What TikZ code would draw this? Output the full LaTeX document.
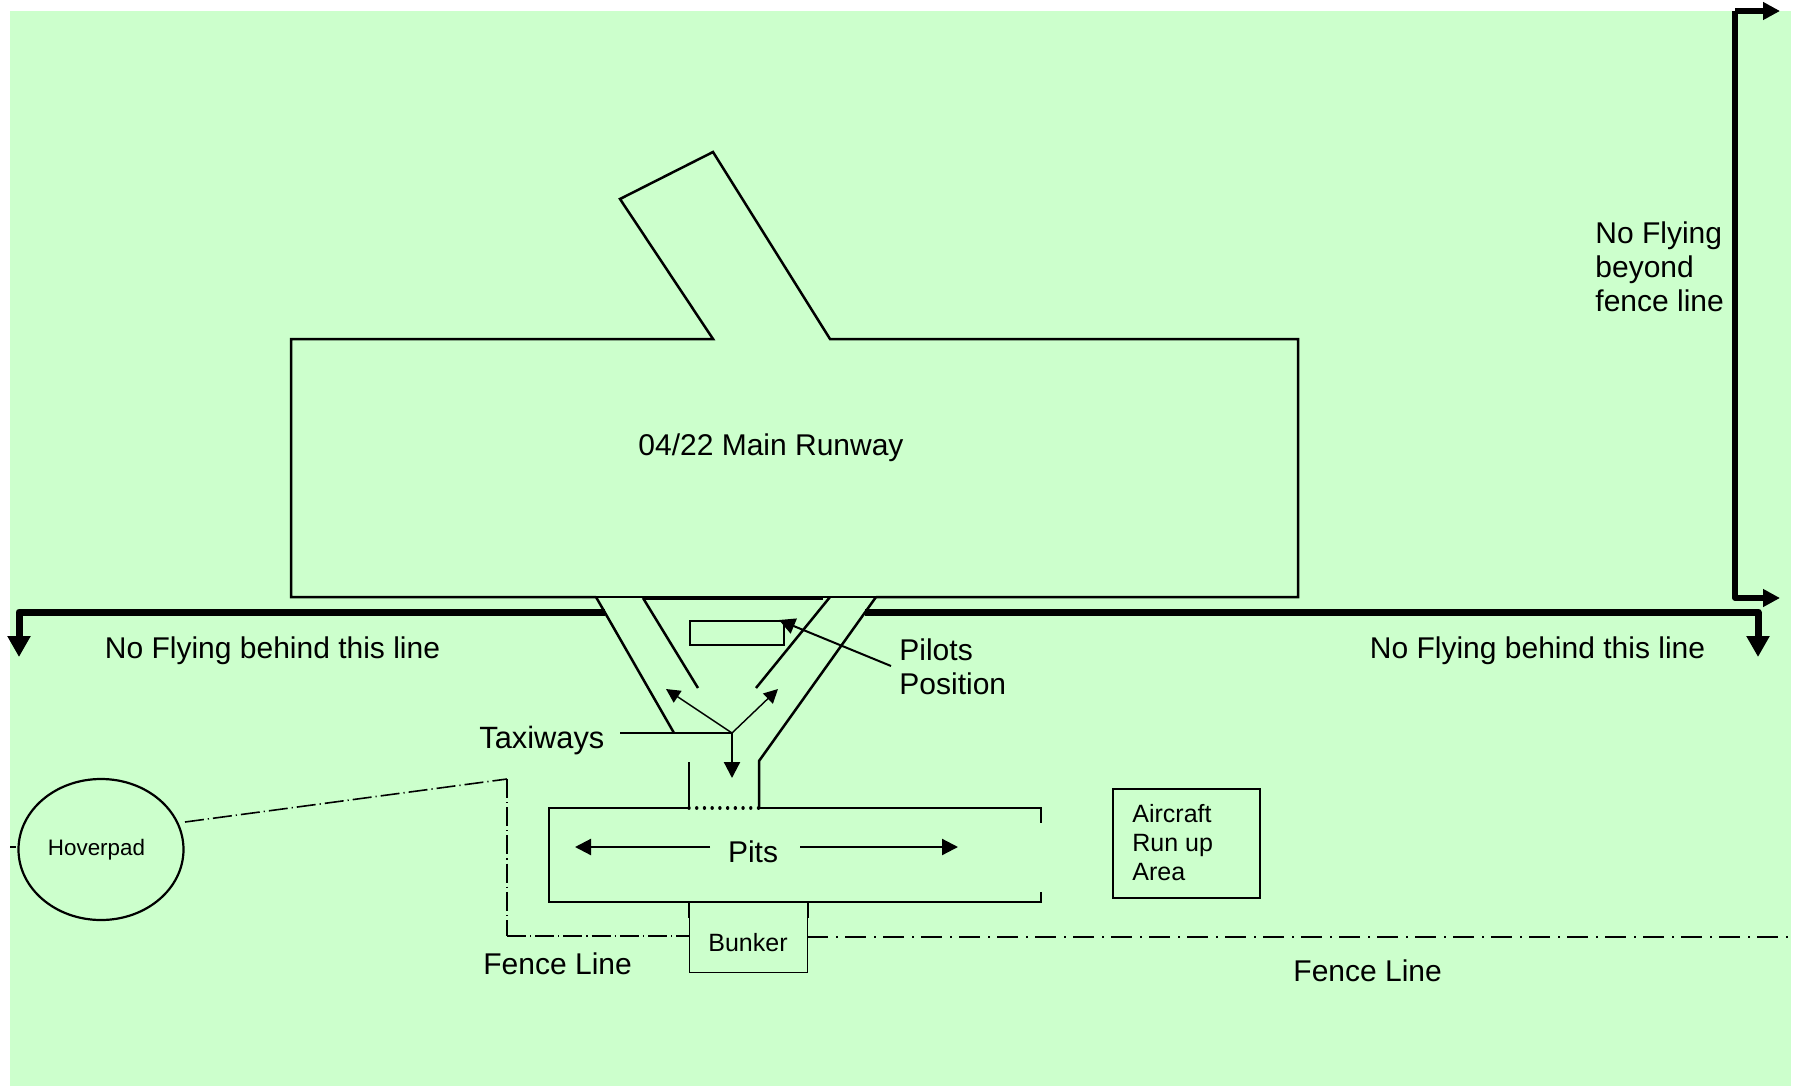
\documentclass[tikz,border=0pt]{standalone}
\usepackage{fontspec}
\setmainfont{Liberation Sans}
\usetikzlibrary{positioning,arrows.meta,calc,shapes.geometric}
\definecolor{grass}{HTML}{CCFFCC}
\begin{document}
\begin{tikzpicture}[
  x=0.5pt,y=-0.5pt,
  lbl/.style={inner sep=0pt,anchor=west,align=left,font=\fontsize{15}{17}\selectfont},
  sml/.style={inner sep=0pt,font=\fontsize{12.5}{14.5}\selectfont},
  edge/.style={draw=black,line width=1.25pt,line join=miter},
  box/.style={draw=black,line width=1.1pt,inner sep=0pt,anchor=north west},
  limit/.style={-{Triangle[length=10.5pt,width=11pt]},line width=3.5pt,line join=round},
  limitb/.style={-{Triangle[length=8.5pt,width=8.5pt]},line width=2.8pt,line join=round},
  a/.style={-{Triangle[length=7pt,width=7pt]},draw=black,line width=0.7pt},
  b/.style={-{Triangle[length=8pt,width=8pt]},draw=black,line width=1.1pt},
  fenceA/.style={draw=black,line width=0.8pt,dash pattern=on 9.5pt off 2pt on 0.6pt off 2pt},
  fenceB/.style={draw=black,line width=1.3pt,dash pattern=on 10.5pt off 4pt on 1pt off 3.5pt}]
\useasboundingbox (0,0) rectangle (1797,1086);
\fill[grass] (10,11) rectangle (1791,1086);

% limit lines
\coordinate (ll1) at (19,657); \coordinate (ll2) at (19,612); \coordinate (ll3) at (605,612);
\coordinate (lr1) at (865,612); \coordinate (lr2) at (1758,612); \coordinate (lr3) at (1758,657);
\coordinate (fa) at (1780,11); \coordinate (fb) at (1735,11); \coordinate (fc) at (1735,598); \coordinate (fd) at (1780,598);
\draw[limit] (ll3)--(ll2)--(ll1);
\draw[limit] (lr1)--(lr2)--(lr3);
\draw[limitb] (fb)--(fa);
\draw[limitb] (fb)--(fc)--(fd);

% runway
\coordinate (r1) at (596,597); \coordinate (r2) at (291,597); \coordinate (r3) at (291,339);
\coordinate (r4) at (713,339); \coordinate (r5) at (620,199); \coordinate (r6) at (713,152);
\coordinate (r7) at (830,339); \coordinate (r8) at (1298,339); \coordinate (r9) at (1298,597);
\coordinate (r10) at (876,597);
\draw[edge] (r1)--(r2)--(r3)--(r4)--(r5)--(r6)--(r7)--(r8)--(r9)--(r10);
\draw[draw=black,line width=0.8pt] (r1)--(r10);
\coordinate (tt1) at (643,598); \coordinate (tt2) at (823,598); \coordinate (tt3) at (830,597);
\draw[edge,line width=1.8pt] (tt1)--(tt2);

% taxiways
\coordinate (tl) at (674,733); \coordinate (hub) at (732,733); \coordinate (tk) at (620,733);
\coordinate (tli) at (698,688); \coordinate (tri) at (756,688);
\coordinate (trk) at (759,761); \coordinate (pr) at (759,808);
\coordinate (tls) at (689,762); \coordinate (pl) at (689,808);
\draw[edge] (r1)--(tl);
\draw[edge] (tk)--(hub);
\draw[edge] (tt1)--(tli);
\draw[edge] (tt3)--(tri);
\draw[edge] (r10)--(trk)--(pr);
\draw[edge] (tls)--(pl);
\draw[a] (hub)--(666,689);
\draw[a] (hub)--(778,689);
\draw[b] (hub)--(732,778);

% pits
\coordinate (p1) at (549,808); \coordinate (p2) at (549,902); \coordinate (p3) at (1041,902);
\coordinate (p4) at (1041,892); \coordinate (p5) at (1041,808); \coordinate (p6) at (1041,823);
\draw[edge] (pl)--(p1)--(p2)--(p3)--(p4);
\draw[edge] (pr)--(p5)--(p6);
\draw[line width=1.7pt,line cap=round,dash pattern=on 0.01pt off 3.85pt] (pl)--(pr);
\node[sml,font=\fontsize{15}{17}\selectfont] (pits) at (753,852) {Pits};
\coordinate (pa) at (575,847); \coordinate (pb) at (710,847); \coordinate (pc) at (800,847); \coordinate (pd) at (958,847);
\draw[b] (pb)--(pa);
\draw[b] (pc)--(pd);

% fence
\node[draw=black,line width=1.1pt,ellipse,inner sep=0pt,minimum width=82.5pt,minimum height=70.5pt] (hover) at (101,849.5) {};
\node[inner sep=0pt,font=\fontsize{11.2}{13}\selectfont] (hovertxt) at (96.5,850) {Hoverpad};
\coordinate (f0) at (10,847); \coordinate (f00) at (18,847);
\coordinate (f1) at (185,822); \coordinate (f2) at (507,779);
\coordinate (f3) at (507,936); \coordinate (f4) at (689,936); \coordinate (f5) at (807,937); \coordinate (f6) at (1791,937);
\draw[fenceA,dash pattern=on 3pt off 1.7pt on 0.6pt off 1.7pt] (f0)--(f00);
\draw[fenceA] (f1)--(f2);
\draw[fenceA,line width=1pt] (f2)--(f3);
\draw[fenceA,line width=0.6pt] (f3)--(f4);
\draw[fenceB] (f5)--(f6);

% boxes
\node[box,line width=0.6pt,minimum width=59pt,minimum height=35pt] (bunker) at (689,902) {};
\node[sml] (bunkertxt) at (748,943) {Bunker};
\draw[edge,line width=1pt] (bunker.north east)--++(0,16);
\draw[edge,line width=1pt] (bunker.north west)--++(0,16);
\node[box,minimum width=47pt,minimum height=12pt] (pilotbox) at (689,620) {};
\node[box,minimum width=73.5pt,minimum height=54.5pt] (runup) at (1112,788) {};
\node[sml,anchor=west,align=left] (runuptxt) at (1132,843) {Aircraft\\Run up\\Area};

% labels
\node[lbl] (main) at (638,448) {04/22 Main Runway};
\node[lbl] (nfl) at (104.5,650.5) {No Flying behind this line};
\node[lbl] (nfr) at (1369.5,650.5) {No Flying behind this line};
\node[lbl] (nfb) at (1595,267) {No Flying\\beyond\\fence line};
\node[lbl] (pilots) at (899,667) {Pilots\\Position};
\node[lbl,font=\fontsize{15.4}{17}\selectfont] (taxi) at (479,741) {Taxiways};
\node[lbl] (fencel) at (483,964) {Fence Line};
\node[lbl] (fencer) at (1293,971) {Fence Line};
\coordinate (pt) at (891,666); \coordinate (pe) at (779,620);
\draw[a,line width=1pt,-{Triangle[length=8pt,width=8pt]}] (pt)--(pe);
\end{tikzpicture}
\end{document}
